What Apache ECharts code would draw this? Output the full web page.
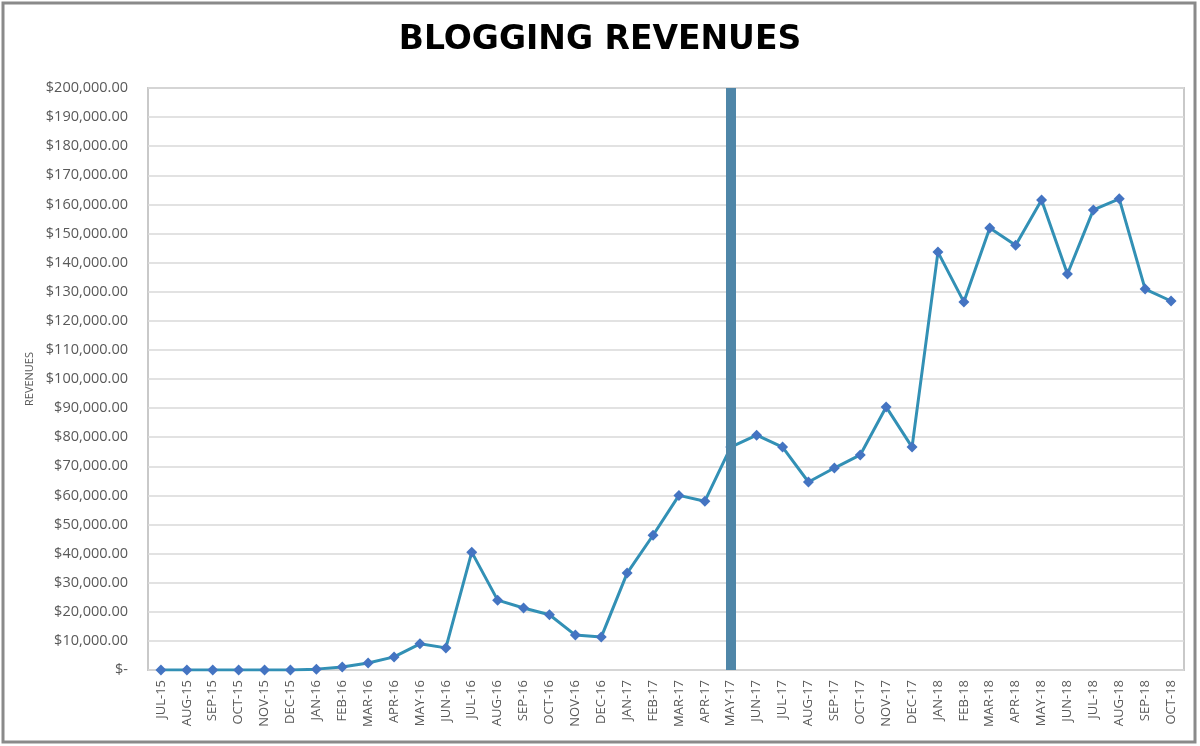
<!DOCTYPE html>
<html>
<head>
<meta charset="utf-8">
<script src="https://cdn.jsdelivr.net/npm/echarts@6/dist/echarts.min.js"></script>
<style>
  html, body { margin: 0; padding: 0; background: #fff; }
  #chart { width: 1200px; height: 746px; }
</style>
</head>
<body>
<div id="chart"></div>
<script>
const months = [
  'JUL-15', 'AUG-15', 'SEP-15', 'OCT-15', 'NOV-15', 'DEC-15',
  'JAN-16', 'FEB-16', 'MAR-16', 'APR-16', 'MAY-16', 'JUN-16',
  'JUL-16', 'AUG-16', 'SEP-16', 'OCT-16', 'NOV-16', 'DEC-16',
  'JAN-17', 'FEB-17', 'MAR-17', 'APR-17', 'MAY-17', 'JUN-17',
  'JUL-17', 'AUG-17', 'SEP-17', 'OCT-17', 'NOV-17', 'DEC-17',
  'JAN-18', 'FEB-18', 'MAR-18', 'APR-18', 'MAY-18', 'JUN-18',
  'JUL-18', 'AUG-18', 'SEP-18', 'OCT-18'
]

const revenues = [
  0, 0, 0, 0, 0, 0,
  300, 1000, 2400, 4500, 9000, 7600,
  40500, 24000, 21300, 19000, 12000, 11300,
  33300, 46300, 60000, 58000, 76600, 80700,
  76600, 64600, 69400, 73900, 90400, 76600,
  143600, 126500, 151900, 146000, 161500, 136100,
  158100, 161900, 130900, 126800
]

// month where the thick marker bar sits
const markerMonth = 'MAY-17'

const fmtMoney = (v) => {
  if (v === 0) return '$-'
  return '$' + v.toLocaleString('en-US', { minimumFractionDigits: 2, maximumFractionDigits: 2 })
}

const chart = echarts.init(document.getElementById('chart'))

const option = {
  backgroundColor: '#fff',
  animation: false,
  title: {
    text: 'BLOGGING REVENUES',
    left: 'center',
    top: 19,
    textStyle: {
      fontFamily: 'DejaVu Sans',
      fontWeight: 900,
      fontSize: 33,
      color: '#000'
    }
  },
  graphic: [
    {
      type: 'rect',
      shape: { x: 3, y: 3, width: 1192, height: 739 },
      style: { fill: 'none', stroke: '#8a8a8a', lineWidth: 3 },
      z: 100
    }
  ],
  grid: {
    left: 148,
    right: 16,
    top: 88,
    bottom: 76,
    show: true,
    borderColor: '#c9c9c9',
    borderWidth: 2
  },
  xAxis: {
    type: 'category',
    data: months,
    boundaryGap: true,
    axisLine: { show: false },
    axisTick: { show: false },
    axisLabel: {
      rotate: 90,
      interval: 0,
      margin: 10,
      fontFamily: 'Open Sans',
      fontSize: 13,
      color: '#595959'
    }
  },
  yAxis: {
    type: 'value',
    min: 0,
    max: 200000,
    interval: 10000,
    name: 'REVENUES',
    nameLocation: 'middle',
    nameGap: 113,
    nameTextStyle: {
      fontFamily: 'Open Sans',
      fontSize: 11,
      color: '#595959'
    },
    axisLine: { show: false },
    axisTick: { show: false },
    axisLabel: {
      formatter: fmtMoney,
      margin: 20,
      fontFamily: 'Open Sans',
      fontSize: 14.5,
      color: '#595959'
    },
    splitLine: { lineStyle: { color: '#d9d9d9', width: 1.5 } }
  },
  series: [
    {
      name: 'Revenues',
      type: 'line',
      data: revenues,
      symbol: 'diamond',
      symbolSize: 11,
      lineStyle: { color: '#3290b5', width: 3 },
      itemStyle: { color: '#4474c2' },
      z: 2
    },
    {
      name: 'marker',
      type: 'line',
      data: [],
      z: 5,
      markLine: {
        silent: true,
        symbol: 'none',
        label: { show: false },
        lineStyle: { color: '#4f86a8', width: 10, type: 'solid' },
        data: [{ xAxis: markerMonth }]
      }
    }
  ]
}

option && chart.setOption(option)
</script>
</body>
</html>
